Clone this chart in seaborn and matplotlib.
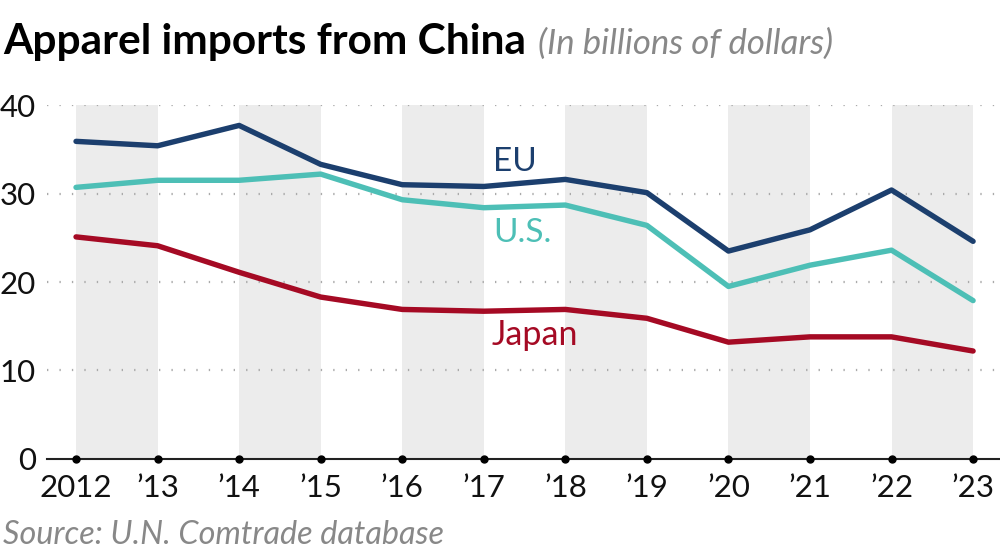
import pandas as pd
import matplotlib.pyplot as plt
import seaborn as sns

years = [2012, 2013, 2014, 2015, 2016, 2017, 2018, 2019, 2020, 2021, 2022, 2023]
year_labels = ["2012", "\u201913", "\u201914", "\u201915", "\u201916", "\u201917",
               "\u201918", "\u201919", "\u201920", "\u201921", "\u201922", "\u201923"]
eu = [35.9, 35.4, 37.7, 33.3, 31.0, 30.8, 31.6, 30.1, 23.5, 25.9, 30.4, 24.6]
us = [30.7, 31.5, 31.5, 32.2, 29.3, 28.4, 28.7, 26.4, 19.5, 21.9, 23.6, 17.9]
japan = [25.1, 24.1, 21.1, 18.3, 16.9, 16.7, 16.9, 15.9, 13.2, 13.8, 13.8, 12.2]
series = ["EU", "U.S.", "Japan"]
colors = ["#1c3f6e", "#4dbfb6", "#a50a24"]
y_ticks = [0, 10, 20, 30, 40]

df = pd.DataFrame({
    "year": years * 3,
    "value": eu + us + japan,
    "region": ["EU"] * 12 + ["U.S."] * 12 + ["Japan"] * 12,
})

sns.set_style("white")
plt.rcParams["font.family"] = ["Lato", "DejaVu Sans"]

fig = plt.figure(figsize=(10, 5.59), dpi=100)
ax = fig.add_axes([0.047, 0.179, 0.953, 0.633])

# shaded bands on every other year pair
for i in range(0, len(years), 2):
    ax.axvspan(years[i], years[i + 1], ymin=0, ymax=1, color="#ececec", lw=0, zorder=0)

for yv in y_ticks[1:]:
    ax.axhline(yv, color="#aaaaaa", lw=1.6, ls=(0, (0.6, 5)), zorder=1)

sns.lineplot(data=df, x="year", y="value", hue="region", hue_order=series,
             palette=colors, linewidth=3.9, legend=False, ax=ax, zorder=3)
for line in ax.lines[-3:]:
    line.set_solid_capstyle("round")
    line.set_solid_joinstyle("round")

ax.plot(years, [0] * len(years), "o", color="black", ms=5, clip_on=False, zorder=5)

ax.set_xlim(2011.644, 2023.33)
ax.set_ylim(0, 40)
ax.set_xticks(years)
ax.set_xticklabels(year_labels)
ax.set_yticks(y_ticks)
ax.set_xlabel("")
ax.set_ylabel("")
ax.tick_params(axis="both", length=0, labelsize=22.5, colors="#111111")
ax.tick_params(axis="x", pad=11)
ax.tick_params(axis="y", pad=8)

for s in ["top", "right", "left"]:
    ax.spines[s].set_visible(False)
ax.spines["bottom"].set_color("#222222")
ax.spines["bottom"].set_linewidth(1.5)

ax.text(2017.11, 33.6, "EU", color=colors[0], fontsize=24, va="center")
ax.text(2017.11, 25.5, "U.S.", color=colors[1], fontsize=24, va="center")
ax.text(2017.10, 14.0, "Japan", color=colors[2], fontsize=24.5, va="center")

fig.text(0.003, 0.925, "Apparel imports from China", fontsize=30.5, fontweight="bold",
         color="black", va="center")
fig.text(0.538, 0.922, "(In billions of dollars)", fontsize=25, fontstyle="italic",
         color="#888888", va="center")
fig.text(0.003, 0.043, "Source: U.N. Comtrade database", fontsize=23.3, fontstyle="italic",
         color="#888888", va="center")

plt.savefig("out.png", dpi=100)
